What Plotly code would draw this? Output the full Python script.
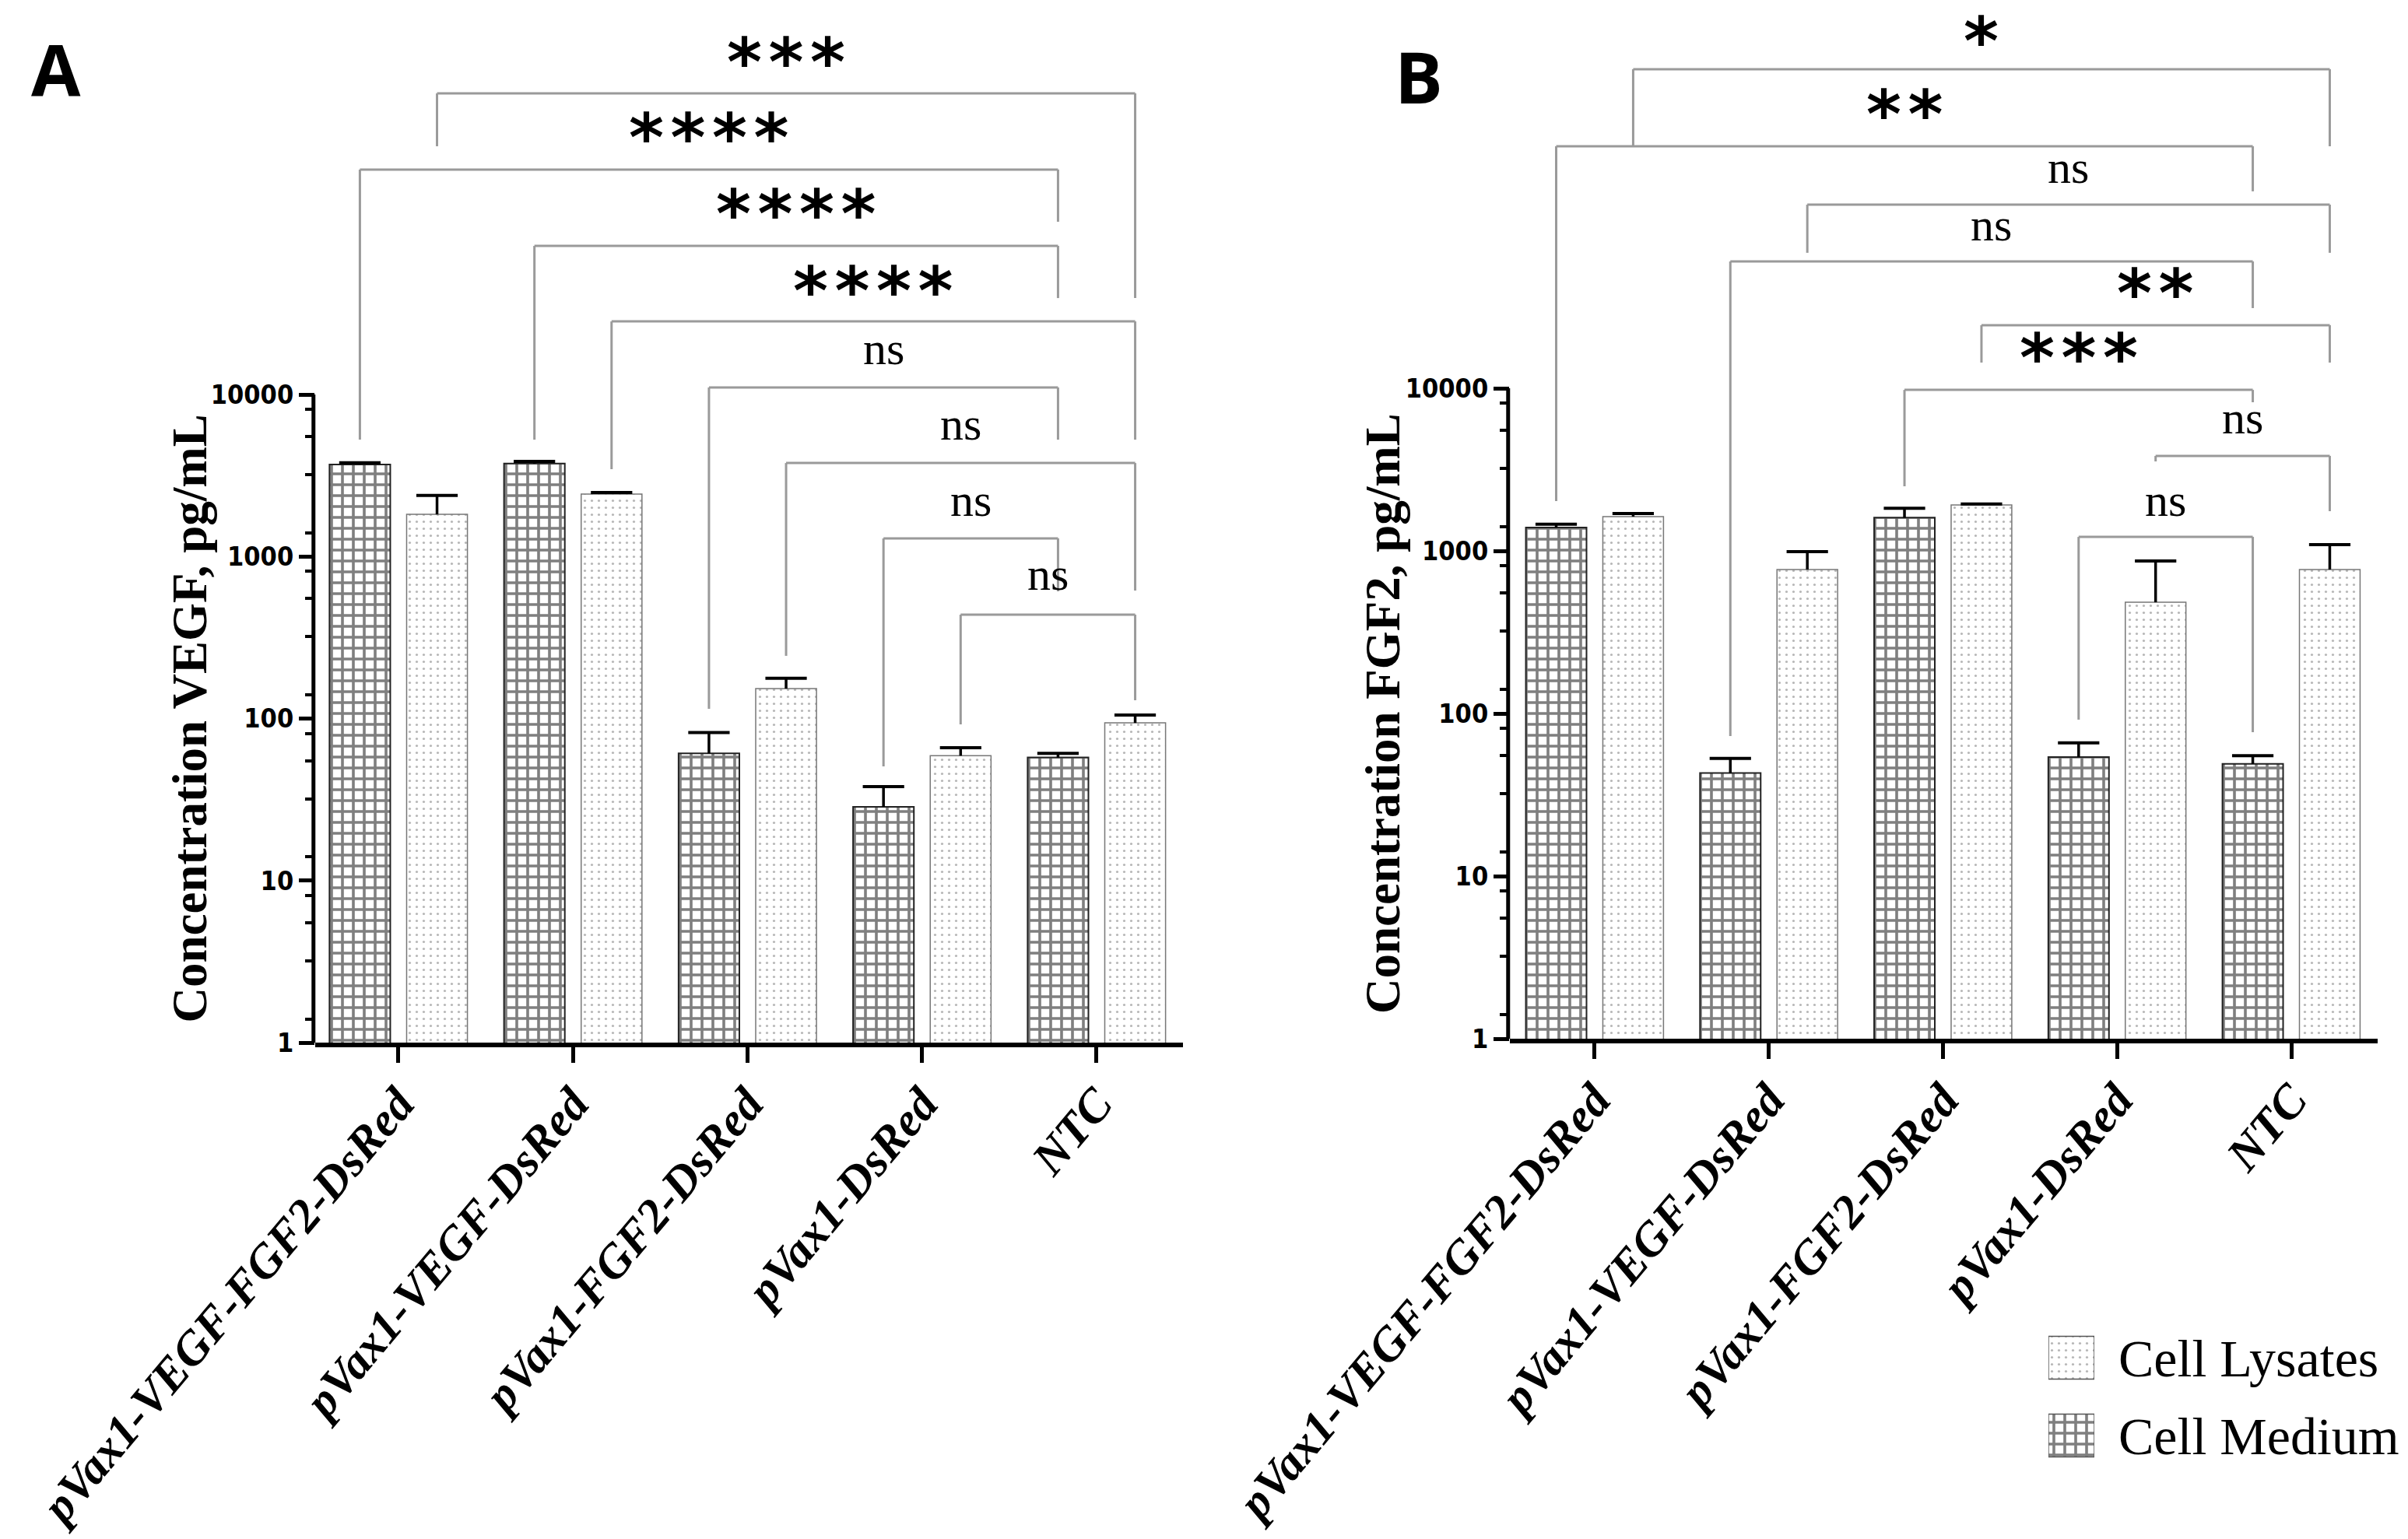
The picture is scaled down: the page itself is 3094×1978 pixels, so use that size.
import plotly.graph_objects as go

W, H = 3094, 1978

# ---------------- data ----------------
categories = ["pVax1-VEGF-FGF2-DsRed", "pVax1-VEGF-DsRed", "pVax1-FGF2-DsRed",
              "pVax1-DsRed", "NTC"]
series_names = ["Cell Medium", "Cell Lysates"]

vegf_medium = [3700, 3750, 61, 28.5, 57.5]
vegf_medium_err = [90, 110, 21, 9.5, 3.5]
vegf_lysate = [1820, 2430, 153, 59, 94]
vegf_lysate_err = [560, 50, 24, 7, 11]

fgf2_medium = [1390, 43, 1600, 54, 49]
fgf2_medium_err = [70, 10, 230, 12, 6]
fgf2_lysate = [1625, 768, 1915, 483, 768]
fgf2_lysate_err = [70, 220, 25, 384, 324]

y_tickvals = [1, 10, 100, 1000, 10000]
y_ticktext = ["1", "10", "100", "1000", "10000"]
minor_mult = [1.4, 3.2, 5.5, 8.1]

# significance brackets: (left series, left group, right series, right group,
#   level, left foot end, right foot end, label, label centre)  -- log10 units
brackets_A = [
    ("L", 0, "L", 4, 5.858, 5.532, 4.595, "***", 6.098),
    ("M", 0, "M", 4, 5.388, 3.721, 5.066, "****", 5.633),
    ("M", 1, "M", 4, 4.917, 3.721, 4.595, "****", 5.162),
    ("L", 1, "L", 4, 4.451, 3.539, 3.721, "****", 4.687),
    ("M", 2, "M", 4, 4.043, 2.060, 3.721, "ns", 4.259),
    ("L", 2, "L", 4, 3.577, 2.387, 2.790, "ns", 3.794),
    ("M", 3, "M", 4, 3.112, 1.705, 2.785, "ns", 3.323),
    ("L", 3, "L", 4, 2.641, 1.964, 2.113, "ns", 2.867),
]
brackets_B = [
    ("L", 0, "L", 4, 5.962, 5.488, 5.488, "*", 6.180),
    ("M", 0, "M", 4, 5.488, 3.306, 5.211, "**", 5.732),
    ("L", 1, "L", 4, 5.129, 4.833, 4.833, "ns", 5.335),
    ("M", 1, "M", 4, 4.780, 1.861, 4.493, "ns", 4.981),
    ("L", 2, "L", 4, 4.388, 4.158, 4.158, "**", 4.632),
    ("M", 2, "M", 4, 3.990, 3.397, 3.914, "***", 4.234),
    ("L", 3, "L", 4, 3.584, 3.550, 3.244, "ns", 3.794),
    ("M", 3, "M", 4, 3.086, 1.962, 1.885, "ns", 3.287),
]

legend_labels = ["Cell Lysates", "Cell Medium"]
legend_fill = [1, 1]

# ---------------- styling ----------------
OFFSET = {"M": -0.221, "L": 0.221}
SERIF = "Liberation Serif"
NARROW = "Liberation Sans Narrow, DejaVu Sans Condensed, Arial Narrow"
BRACKET_COLOR = "#9a9a9a"

med_pattern = dict(shape="+", fgcolor="black", bgcolor="white", size=14, solidity=0.45)
lys_pattern = dict(shape=".", fgcolor="#6e6e6e", bgcolor="white", size=9, solidity=0.1)
med_marker = dict(color="white", line=dict(color="#222222", width=2), pattern=med_pattern)
lys_marker = dict(color="white", line=dict(color="#777777", width=1.5), pattern=lys_pattern)

fig = go.Figure()
xs = list(range(len(categories)))

panels = [
    ("x", "y", vegf_medium, vegf_medium_err, vegf_lysate, vegf_lysate_err),
    ("x2", "y2", fgf2_medium, fgf2_medium_err, fgf2_lysate, fgf2_lysate_err),
]
for xa, ya, med, med_e, lys, lys_e in panels:
    fig.add_trace(go.Bar(x=xs, y=med, name=series_names[0], xaxis=xa, yaxis=ya,
                         marker=med_marker, showlegend=False))
    fig.add_trace(go.Bar(x=xs, y=lys, name=series_names[1], xaxis=xa, yaxis=ya,
                         marker=lys_marker, showlegend=False))
    # one-sided (upper) error bars: stem from the bar top, cap at mean + SD
    for key, vals, errs in [("M", med, med_e), ("L", lys, lys_e)]:
        fig.add_trace(go.Scatter(
            x=[i + OFFSET[key] for i in xs],
            y=[v + e for v, e in zip(vals, errs)],
            xaxis=xa, yaxis=ya, mode="markers", showlegend=False, hoverinfo="skip",
            marker=dict(symbol="line-ew-open", size=38, color="black",
                        line=dict(color="black", width=4)),
            error_y=dict(type="data", symmetric=False, array=[0] * len(errs),
                         arrayminus=errs, color="black", thickness=3.5, width=0)))

# legend drawn as a small horizontal bar chart
fig.add_trace(go.Bar(
    y=legend_labels, x=legend_fill, orientation="h", xaxis="x3", yaxis="y3",
    width=0.55, showlegend=False,
    marker=dict(color="white", line=dict(color="#555555", width=1.5),
                pattern=dict(shape=[".", "+"], fgcolor=["#6e6e6e", "black"],
                             bgcolor="white", size=[9, 14], solidity=[0.1, 0.45]))))

# ---------------- axes ----------------
def xaxis_cfg(x0px, x1px, rng, anchor):
    return dict(domain=[x0px / W, x1px / W], range=rng, anchor=anchor,
                automargin=False, ticklabelstandoff=-8,
                tickmode="array", tickvals=xs, ticktext=categories, tickangle=-50,
                ticks="outside", ticklen=20, tickwidth=5, tickcolor="black",
                showline=True, linewidth=6, linecolor="black",
                showgrid=False, zeroline=False,
                tickfont=dict(family=SERIF, size=61, color="black",
                              weight="bold", style="italic"))


minor_vals = [m * 10 ** k for k in range(4) for m in minor_mult]


def yaxis_cfg(bottom_px, px_per_dec, anchor):
    return dict(type="log", domain=[1 - bottom_px / H, 1],
                range=[0, bottom_px / px_per_dec], anchor=anchor,
                automargin=False,
                tickmode="array", tickvals=y_tickvals, ticktext=y_ticktext,
                ticks="outside", ticklen=20, tickwidth=5, tickcolor="black",
                showline=False, showgrid=False, zeroline=False,
                tickfont=dict(family=NARROW, size=34, color="black", weight="bold"),
                minor=dict(tickvals=minor_vals, ticks="outside", ticklen=12,
                           tickwidth=4, tickcolor="black", showgrid=False))


fig.update_layout(
    width=W, height=H, margin=dict(l=0, r=0, t=0, b=0, pad=0, autoexpand=False),
    paper_bgcolor="white", plot_bgcolor="rgba(0,0,0,0)",
    barmode="group", bargap=0.116, bargroupgap=0.212, showlegend=False,
    xaxis=xaxis_cfg(405, 1520, [-0.477, 4.495], "y"),
    yaxis=yaxis_cfg(1340, 208.25, "x"),
    xaxis2=xaxis_cfg(1940, 3055, [-0.487, 4.496], "y2"),
    yaxis2=yaxis_cfg(1335, 209.0, "x2"),
    xaxis3=dict(domain=[2632 / W, 2691 / W], range=[0, 1], anchor="y3",
                visible=False, fixedrange=True, automargin=False),
    yaxis3=dict(domain=[1 - 1895 / H, 1 - 1695 / H], anchor="x3", type="category",
                categoryorder="array", categoryarray=legend_labels[::-1],
                side="right", ticks="", showline=False, showgrid=False,
                ticklabelstandoff=30, automargin=False,
                tickfont=dict(family=SERIF, size=68, color="black")),
)

shapes = []
annotations = []

# y axis lines (only over the 1..10000 span)
for xr, yr in [("x domain", "y"), ("x2 domain", "y2")]:
    shapes.append(dict(type="line", xref=xr, yref=yr, x0=-0.002, x1=-0.002,
                       y0=0.93, y1=10000, line=dict(color="black", width=5)))

# brackets
for (xr, yr, brs) in [("x", "y", brackets_A), ("x2", "y2", brackets_B)]:
    for ls, li, rs, ri, lvl, lend, rend, lab, ty in brs:
        xl = li + OFFSET[ls]
        xr_ = ri + OFFSET[rs]
        ln = dict(color=BRACKET_COLOR, width=3)
        shapes.append(dict(type="line", xref=xr, yref=yr, x0=xl, x1=xr_,
                           y0=10 ** lvl, y1=10 ** lvl, line=ln))
        shapes.append(dict(type="line", xref=xr, yref=yr, x0=xl, x1=xl,
                           y0=10 ** lvl, y1=10 ** lend, line=ln))
        shapes.append(dict(type="line", xref=xr, yref=yr, x0=xr_, x1=xr_,
                           y0=10 ** lvl, y1=10 ** rend, line=ln))
        if "*" in lab:
            txt = "\u200a".join(lab)
            font = dict(family="DejaVu Sans", size=86, color="black", weight="bold")
            ys = -10
        else:
            txt = lab
            font = dict(family=SERIF, size=60, color="black")
            ys = 5
        annotations.append(dict(xref=xr, yref=yr, x=(xl + xr_) / 2, y=ty, text=txt,
                                showarrow=False, font=font, xanchor="center",
                                yanchor="middle", yshift=ys))

# axis titles
for xp, yr, t in [(243 / W, "y", "Concentration VEGF, pg/mL"),
                  (1777 / W, "y2", "Concentration FGF2, pg/mL")]:
    annotations.append(dict(xref="paper", yref=yr, x=xp, y=2, text=t, textangle=-90,
                            showarrow=False, xanchor="center", yanchor="middle",
                            font=dict(family=SERIF, size=63, color="black",
                                      weight="bold")))

# panel letters
for xp, yp, t in [(72 / W, 1 - 88 / H, "A"), (1823 / W, 1 - 98 / H, "B")]:
    annotations.append(dict(xref="paper", yref="paper", x=xp, y=yp, text=t,
                            showarrow=False, xanchor="center", yanchor="middle",
                            font=dict(family="Open Sans", size=92, color="black",
                                      weight="bold")))

fig.update_layout(shapes=shapes, annotations=annotations)
fig.write_html("out.html", config={"displayModeBar": False},
               post_script="document.body.style.margin='0px';"
                           "document.body.style.padding='0px';")
